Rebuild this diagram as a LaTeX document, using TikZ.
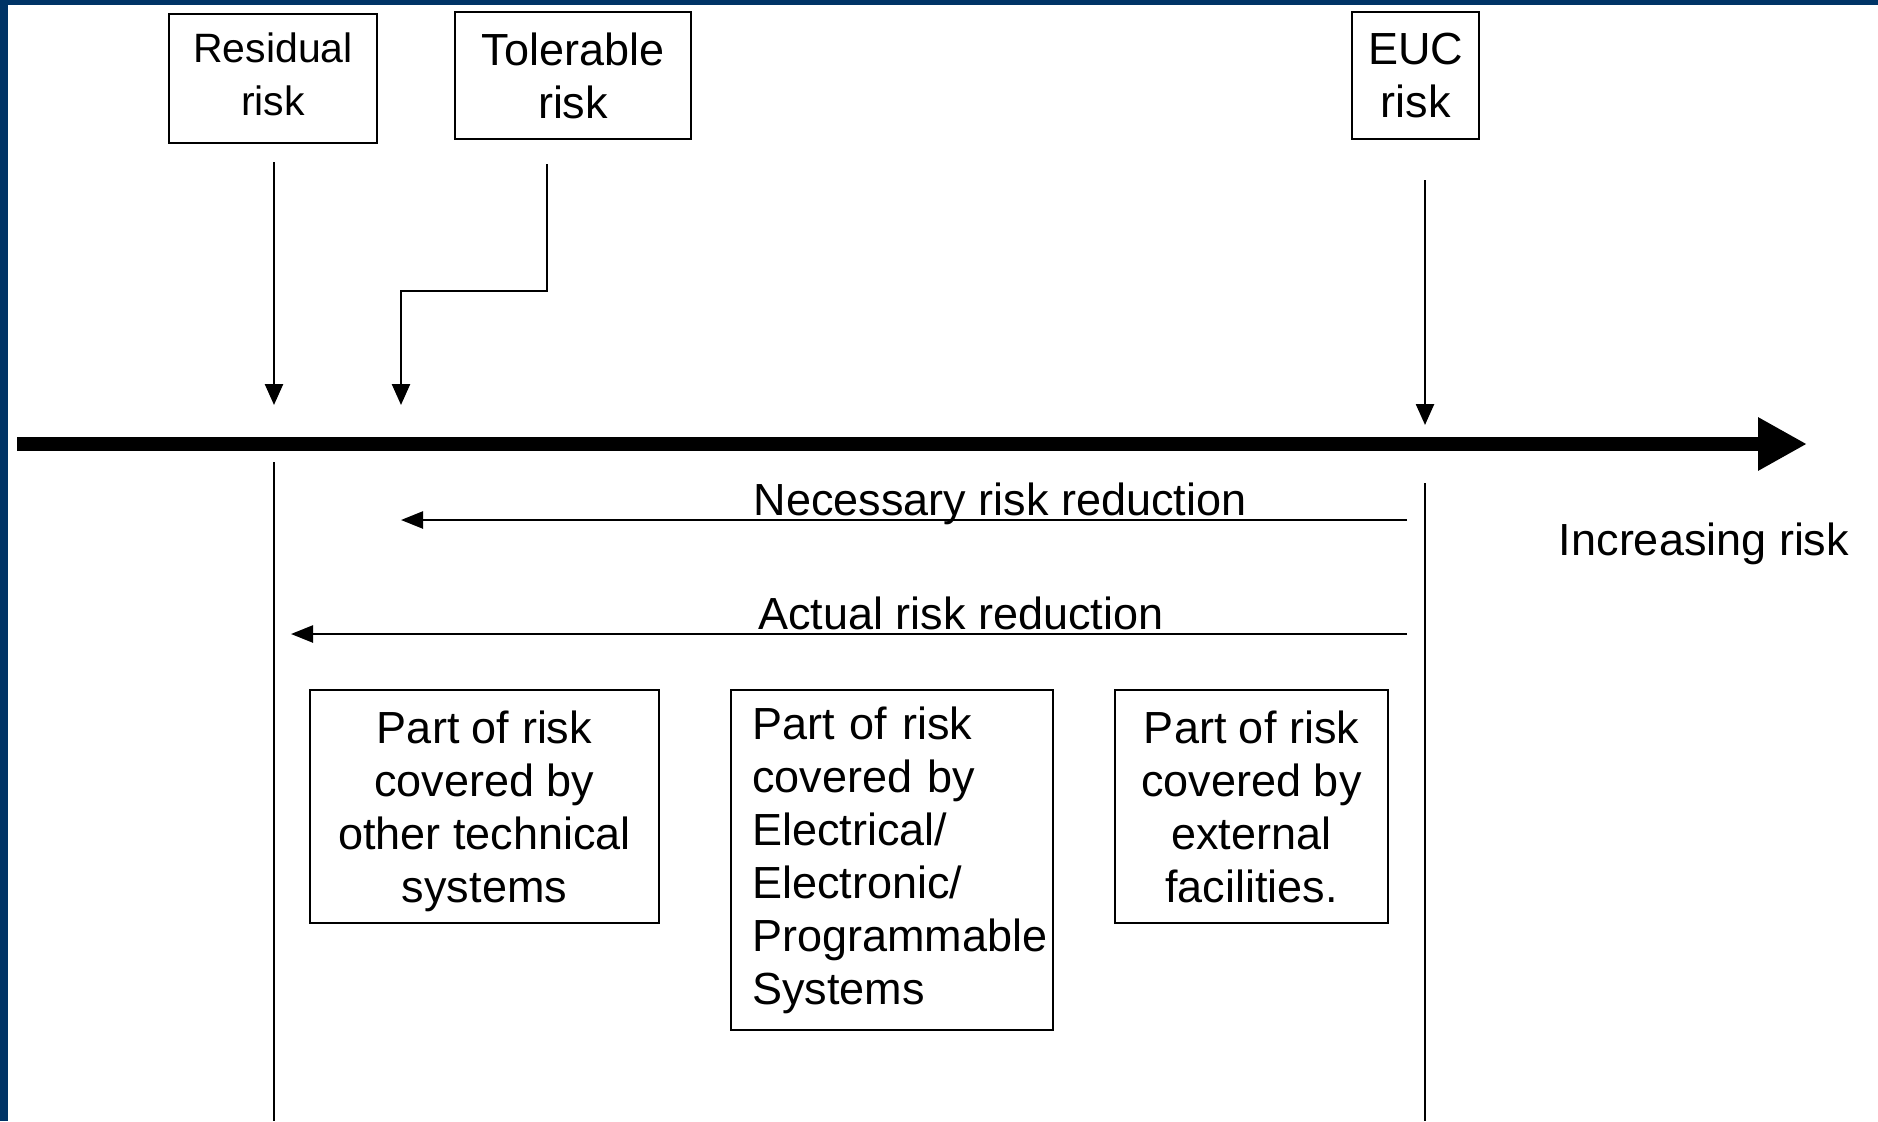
\documentclass[tikz,border=0pt]{standalone}
\usepackage{fontspec}
\setmainfont{Liberation Sans}
\usetikzlibrary{arrows.meta}
\definecolor{navy}{RGB}{0,52,102}
\begin{document}
\begin{tikzpicture}[x=1pt,y=-1pt,
  lab/.style={font=\fontsize{45}{53}\selectfont, inner sep=0pt},
  riskbox/.style={draw, line width=2.5pt, font=\fontsize{45}{53}\selectfont, inner sep=0pt},
  conn/.style={line width=2.5pt, -{Triangle[length=21pt,width=18pt]}},
  hconn/.style={line width=2.5pt, -{Triangle[length=22pt,width=17pt]}},
  plain/.style={line width=2.5pt},
  axis/.style={line width=14pt, -{Triangle[length=49pt,width=50pt]}}]
\useasboundingbox (0,0) rectangle (1878,1121);
\fill[white] (0,0) rectangle (1878,1121);
\fill[navy] (0,0) rectangle (1878,5);
\fill[navy] (0,0) rectangle (8,1121);

% top boxes
\node[riskbox, align=center, minimum width=208pt, minimum height=129pt] (res) at (273,78.5) {};
\node[lab, align=center, font=\fontsize{41}{53}\selectfont] (restxt) at (273,74) {Residual\\risk};
\node[riskbox, align=center, minimum width=236pt, minimum height=127pt] (tol) at (573,75.5) {Tolerable\\risk};
\node[riskbox, align=center, minimum width=127pt, minimum height=127pt] (euc) at (1415.5,75.5) {EUC\\risk};

% bottom boxes
\node[riskbox, align=center, minimum width=349pt, minimum height=233pt] (other) at (484.5,806.5) {};
\node[lab, align=center] (othertxt) at (484.5,811) {Part of risk\\covered by\\other technical\\systems};
\node[riskbox, align=left, text width=280pt, minimum width=322pt, minimum height=340pt] (eep) at (892,860) {Part of risk\\covered by\\Electrical/\\Electronic/\\Programmable\\Systems};
\node[riskbox, align=center, minimum width=273pt, minimum height=233pt] (ext) at (1251.5,806.5) {Part of risk\\covered by\\external\\facilities.};

% coordinates
\coordinate (resA) at (274,162);
\coordinate (resB) at (274,405);
\coordinate (tolA) at (547,164);
\coordinate (tolB) at (547,291);
\coordinate (tolC) at (401,291);
\coordinate (tolD) at (401,405);
\coordinate (eucA) at (1425,180);
\coordinate (eucB) at (1425,425);
\coordinate (axA) at (17,444);
\coordinate (axB) at (1807,444);
\coordinate (resL1) at (274,462);
\coordinate (resL2) at (274,1121);
\coordinate (eucL1) at (1425,483);
\coordinate (eucL2) at (1425,1121);
\coordinate (necA) at (1407,520);
\coordinate (necB) at (401,520);
\coordinate (actA) at (1407,634);
\coordinate (actB) at (291,634);

% arrows
\draw[conn] (resA) -- (resB);
\draw[conn] (tolA) -- (tolB) -- (tolC) -- (tolD);
\draw[conn] (eucA) -- (eucB);
\draw[axis] (axA) -- (axB);
\draw[plain] (resL1) -- (resL2);
\draw[plain] (eucL1) -- (eucL2);
\draw[hconn] (necA) -- (necB);
\draw[hconn] (actA) -- (actB);

% labels
\node[lab, anchor=base] (neclab) at (1000,515) {Necessary risk reduction};
\node[lab, anchor=base] (actlab) at (961,629) {Actual risk reduction};
\node[lab, anchor=base] (inclab) at (1704,555) {Increasing risk};
\end{tikzpicture}
\end{document}
